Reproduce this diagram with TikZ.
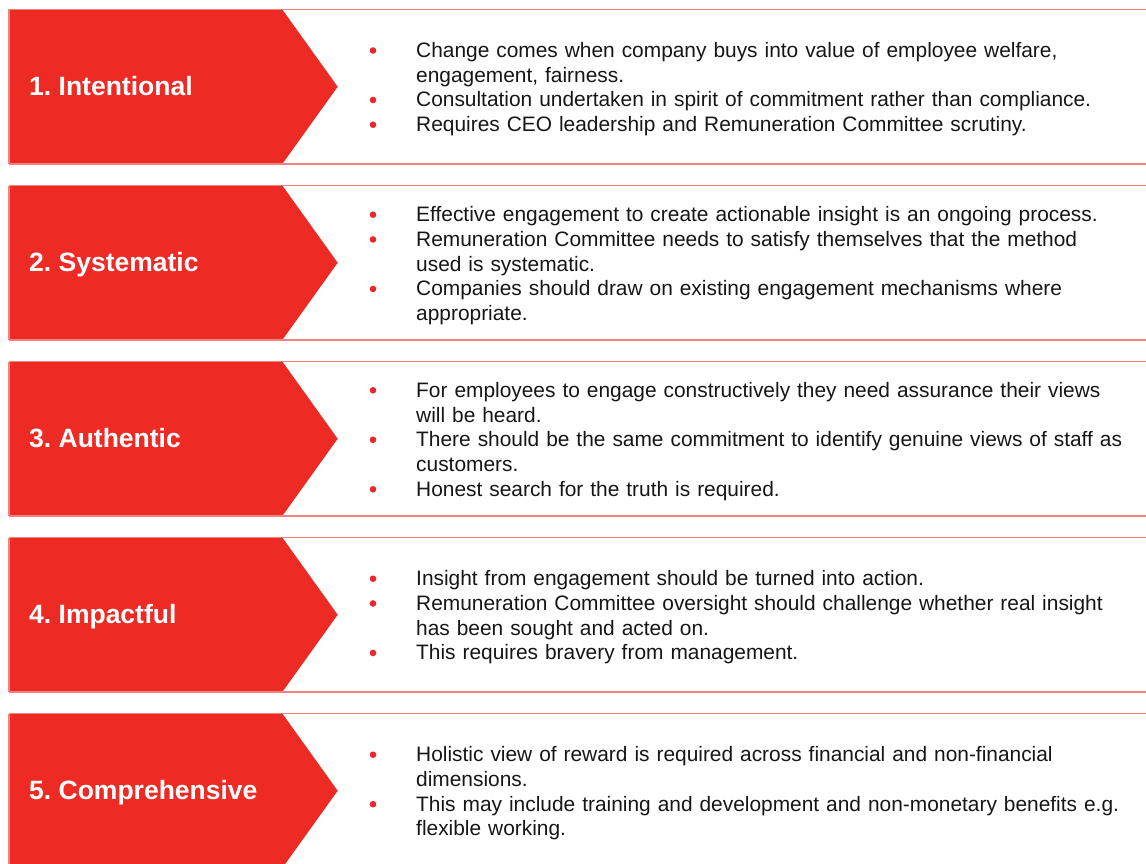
\documentclass[tikz,border=0pt]{standalone}
\usepackage{fontspec}
\setmainfont{Liberation Sans}
\frenchspacing
\definecolor{chevred}{RGB}{238,42,36}
\definecolor{rulered}{RGB}{242,130,128}
\definecolor{dotred}{RGB}{234,40,40}
\definecolor{bodytext}{RGB}{22,22,22}
\tikzset{
  chevfill/.style={fill=chevred},
  rowframe/.style={draw=rulered, line width=1.3pt},
  bandlabel/.style={anchor=base west, inner sep=0pt, text=white,
    font=\fontsize{26.5}{30}\selectfont\bfseries},
  dot/.style={circle, fill=dotred, minimum size=6.6pt, inner sep=0pt},
  item/.style={anchor=base west, inner sep=0pt, text=bodytext, align=left,
    text width=730pt, font=\fontsize{20.9}{24.75}\selectfont}
}
\newcommand\band[3]{%
  \path[chevfill] (9,#2) -- (282.3,#2) -- (337.7,#2+77.25) -- (282.3,#2+154.5) -- (9,#2+154.5) -- cycle;
  \draw[rowframe] (9,#2) -- (1160,#2);
  \draw[rowframe] (9,#2+154.5) -- (1160,#2+154.5);
  \draw[rowframe] (9,#2) -- (9,#2+154.5);
  \node[bandlabel] (l#1) at (29,#2+86.3) {#3};
}
\newcommand\bul[3]{%
  \node[dot] (d#1) at (373,#2-7) {};
  \node[item] (t#1) at (416,#2) {#3};
}
\begin{document}
\begin{tikzpicture}[x=1pt,y=-1pt]
\clip (0,0) rectangle (1146,864);
\band{1}{9.5}{1. Intentional}
\band{2}{185.5}{2. Systematic}
\band{3}{361.5}{3. Authentic}
\band{4}{537.5}{4. Impactful}
\band{5}{713.5}{5. Comprehensive}
% row 1
\bul{11}{57.5}{Change comes when company buys into value of employee welfare,\\engagement, fairness.}
\bul{12}{107}{Consultation undertaken in spirit of commitment rather than compliance.}
\bul{13}{131.75}{Requires CEO leadership and Remuneration Committee scrutiny.}
% row 2
\bul{21}{221.7}{Effective engagement to create actionable insight is an ongoing process.}
\bul{22}{246.45}{Remuneration Committee needs to satisfy themselves that the method\\used is systematic.}
\bul{23}{295.95}{Companies should draw on existing engagement mechanisms where\\appropriate.}
% row 3
\bul{31}{397.3}{For employees to engage constructively they need assurance their views\\will be heard.}
\bul{32}{446.8}{There should be the same commitment to identify genuine views of staff as\\customers.}
\bul{33}{496.3}{Honest search for the truth is required.}
% row 4
\bul{41}{585.7}{Insight from engagement should be turned into action.}
\bul{42}{610.45}{Remuneration Committee oversight should challenge whether real insight\\has been sought and acted on.}
\bul{43}{659.95}{This requires bravery from management.}
% row 5
\bul{51}{761.7}{Holistic view of reward is required across financial and non-financial\\dimensions.}
\bul{52}{811.2}{This may include training and development and non-monetary benefits e.g.\\flexible working.}
\end{tikzpicture}
\end{document}
